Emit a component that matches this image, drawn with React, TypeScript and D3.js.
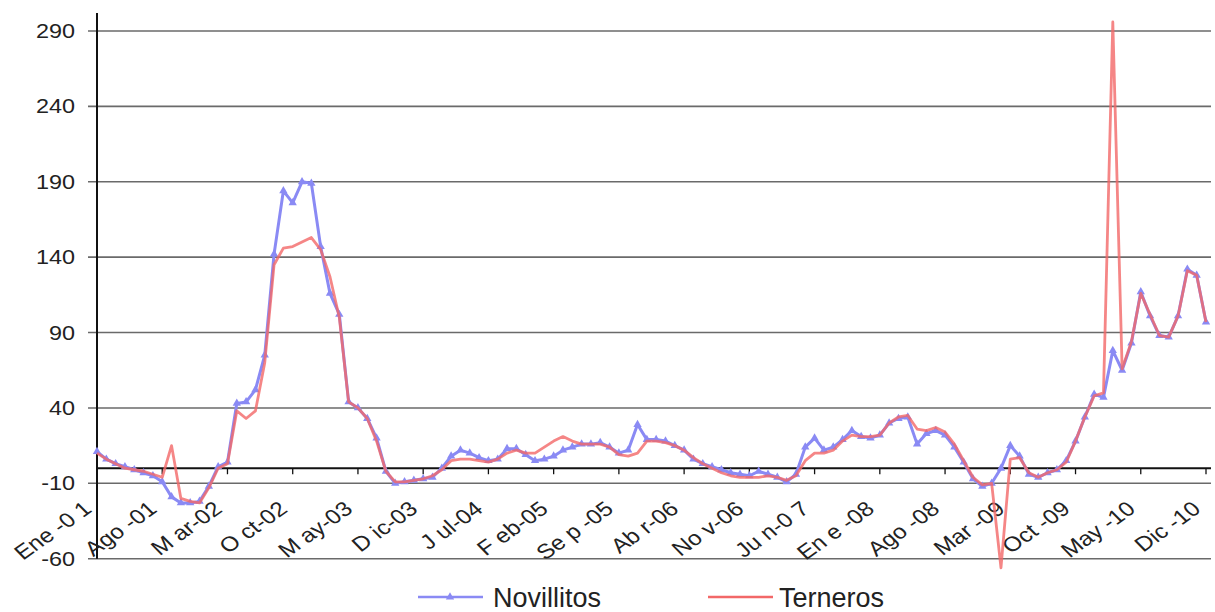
import React from "react";
import * as d3 from "d3";

const tickLabels = [
  "Ene -0 1", "Ago -01", "M ar-02", "O ct-02", "M ay-03", "D ic-03", "J ul-04", "F eb-05", "Se p -05",
  "Ab r-06", "No v-06", "Ju n-0 7", "En e -08", "Ago -08", "Mar -09", "Oct -09", "May -10", "Dic -10",
];
const yTicks = [-60, -10, 40, 90, 140, 190, 240, 290];

const novillitos = [
  11, 6, 3, 1, -1, -3, -5, -9, -19, -23, -23, -22, -12, 1, 4, 43, 44, 52, 75, 142,
  184, 176, 190, 189, 147, 116, 102, 44, 40, 33, 20, -2, -10, -9, -8, -7, -6, 0, 8, 12,
  10, 7, 5, 6, 13, 13, 9, 5, 6, 8, 12, 14, 16, 16, 17, 14, 10, 12, 29, 19,
  19, 18, 15, 12, 6, 3, 1, -1, -3, -4, -5, -2, -4, -6, -9, -4, 14, 20, 12, 14,
  19, 25, 21, 20, 22, 30, 33, 34, 16, 23, 25, 22, 14, 4, -7, -12, -10, 0, 15, 8,
  -4, -6, -3, -1, 5, 18, 34, 49, 47, 78, 65, 83, 117, 101, 88, 87, 101, 132, 128, 97,
];
const terneros = [
  10, 6, 3, 0, -1, -2, -4, -6, 15, -20, -22, -23, -13, 0, 3, 38, 33, 38, 70, 135,
  146, 147, 150, 153, 145, 127, 100, 44, 40, 33, 18, -2, -9, -9, -8, -7, -5, -1, 5, 6,
  6, 5, 4, 6, 10, 12, 10, 10, 14, 18, 21, 18, 16, 16, 16, 14, 9, 8, 10, 18,
  18, 17, 15, 12, 7, 3, 0, -3, -5, -6, -6, -6, -5, -6, -8, -5, 5, 10, 10, 12,
  18, 22, 21, 21, 22, 30, 34, 35, 26, 25, 27, 24, 16, 5, -6, -11, -10, -66, 6, 7,
  -3, -6, -3, -1, 4, 18, 34, 48, 50, 296, 66, 84, 116, 102, 88, 87, 101, 131, 128, 97,
];
const seriesNames = ["Novillitos", "Terneros"];

const BLUE = "#8a8af4";
const RED = "#f26868";

export default function App() {
  const x = d3.scaleLinear().domain([0, novillitos.length - 1]).range([97, 1206]);
  const y = d3.scaleLinear().domain([-60, 290]).range([558.7, 31]);
  const line = d3
    .line<number>()
    .x((_, i) => x(i))
    .y((d) => y(d));
  const tri = d3.symbol().type(d3.symbolTriangle).size(30)() as string;
  const font = "'Liberation Sans', Arial, sans-serif";
  const tickIdx = tickLabels.map((_, k) => k * 7);

  return (
    <svg
      width={1215}
      height={612}
      style={{ position: "absolute", left: 0, top: 0, background: "#fff" }}
    >
      {yTicks.map((t) => (
        <line key={t} x1={88} x2={1211} y1={y(t)} y2={y(t)} stroke="#6a6a6a" strokeWidth={1.6} />
      ))}
      <line x1={97} x2={97} y1={y(302)} y2={y(-60)} stroke="#111" strokeWidth={2} />
      <line x1={97} x2={1211} y1={y(0)} y2={y(0)} stroke="#111" strokeWidth={2} />
      {tickIdx.map((i) => (
        <line key={i} x1={x(i)} x2={x(i)} y1={y(0)} y2={y(0) + 6} stroke="#111" strokeWidth={1.3} />
      ))}
      {yTicks.map((t) => (
        <text
          key={t}
          transform={`translate(75,${y(t) + 7}) scale(1.2,1)`}
          textAnchor="end"
          fontFamily={font}
          fontSize={19.5}
          fill="#222"
        >
          {t}
        </text>
      ))}
      {tickLabels.map((lab, k) => (
        <text
          key={lab}
          transform={`translate(${x(tickIdx[k]) - 4},511) scale(1.18,1) rotate(-40)`}
          textAnchor="end"
          fontFamily={font}
          fontSize={20.5}
          fill="#222"
        >
          {lab}
        </text>
      ))}
      <path d={line(novillitos) as string} fill="none" stroke={BLUE} strokeWidth={3} strokeLinejoin="round" />
      {novillitos.map((v, i) => (
        <path key={i} d={tri} transform={`translate(${x(i)},${y(v)})`} fill={BLUE} />
      ))}
      <path
        d={line(terneros) as string}
        fill="none"
        stroke={RED}
        strokeWidth={2.8}
        strokeLinejoin="round"
        opacity={0.8}
      />
      <line x1={418} x2={483} y1={597} y2={597} stroke={BLUE} strokeWidth={2.6} />
      <path d={tri} transform="translate(450,597)" fill={BLUE} />
      <text x={493} y={607} fontFamily={font} fontSize={27} fill="#222">
        {seriesNames[0]}
      </text>
      <line x1={708} x2={773} y1={597} y2={597} stroke={RED} strokeWidth={2.6} />
      <text x={779} y={607} fontFamily={font} fontSize={27} fill="#222">
        {seriesNames[1]}
      </text>
    </svg>
  );
}
